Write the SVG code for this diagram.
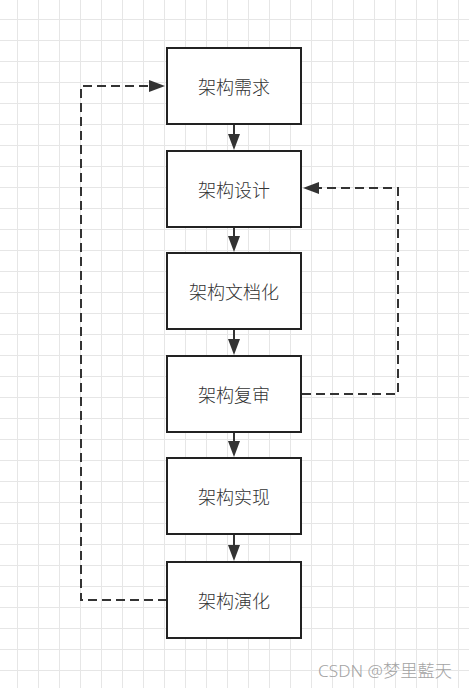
<svg xmlns="http://www.w3.org/2000/svg" width="469" height="688" viewBox="0 0 469 688">
  <style>
    .box { fill: #ffffff; stroke: #222222; stroke-width: 2; }
    .lbl { font-family: "Noto Sans CJK SC", "Microsoft YaHei", sans-serif; font-size: 18px; font-weight: 300; fill: #333333; text-anchor: middle; dominant-baseline: central; }
    .solid { fill: none; stroke: #333333; stroke-width: 2; }
    .dash { fill: none; stroke: #333333; stroke-width: 2; stroke-dasharray: 9 5; }
    .wm { font-family: "Noto Sans", "Noto Sans CJK TC", "Noto Sans CJK SC", sans-serif; font-size: 17px; font-weight: 300; fill: #a3a3a3; }
  </style>
  <defs>
    <pattern id="grid" x="17" y="19" width="21" height="21" patternUnits="userSpaceOnUse">
      <path d="M0.5 0 V21 M0 0.5 H21" fill="none" stroke="#e6e6e6" stroke-width="1"/>
    </pattern>
    <marker id="arrow" viewBox="0 0 16 12" markerWidth="16" markerHeight="12" refX="0" refY="6" orient="auto" markerUnits="userSpaceOnUse">
      <path d="M0 0 L16 6 L0 12 Z" fill="#333333" stroke="none"/>
    </marker>
  </defs>

  <rect x="0" y="0" width="469" height="688" fill="#ffffff"/>
  <rect x="0" y="0" width="469" height="688" fill="url(#grid)"/>

  <g id="connectors">
    <path class="solid" d="M234 125 V134" marker-end="url(#arrow)"/>
    <path class="solid" d="M234 228 V236" marker-end="url(#arrow)"/>
    <path class="solid" d="M234 330 V339" marker-end="url(#arrow)"/>
    <path class="solid" d="M234 433 V441" marker-end="url(#arrow)"/>
    <path class="solid" d="M234 535 V545" marker-end="url(#arrow)"/>
    <path class="dash" d="M167 600 H81 V86 H149" marker-end="url(#arrow)"/>
    <path class="dash" d="M302 394 H398 V188 H319" marker-end="url(#arrow)"/>
  </g>

  <g id="n1"><rect class="box" x="167" y="48" width="134" height="76"/><text class="lbl" x="234" y="86">架构需求</text></g>
  <g id="n2"><rect class="box" x="167" y="151" width="134" height="76"/><text class="lbl" x="234" y="189">架构设计</text></g>
  <g id="n3"><rect class="box" x="167" y="253" width="134" height="76"/><text class="lbl" x="234" y="291">架构文档化</text></g>
  <g id="n4"><rect class="box" x="167" y="356" width="134" height="76"/><text class="lbl" x="234" y="394">架构复审</text></g>
  <g id="n5"><rect class="box" x="167" y="458" width="134" height="76"/><text class="lbl" x="234" y="496">架构实现</text></g>
  <g id="n6"><rect class="box" x="167" y="562" width="134" height="76"/><text class="lbl" x="234" y="600">架构演化</text></g>

  <text class="wm" x="318" y="677" textLength="134" lengthAdjust="spacingAndGlyphs">CSDN @梦里藍天</text>
</svg>
